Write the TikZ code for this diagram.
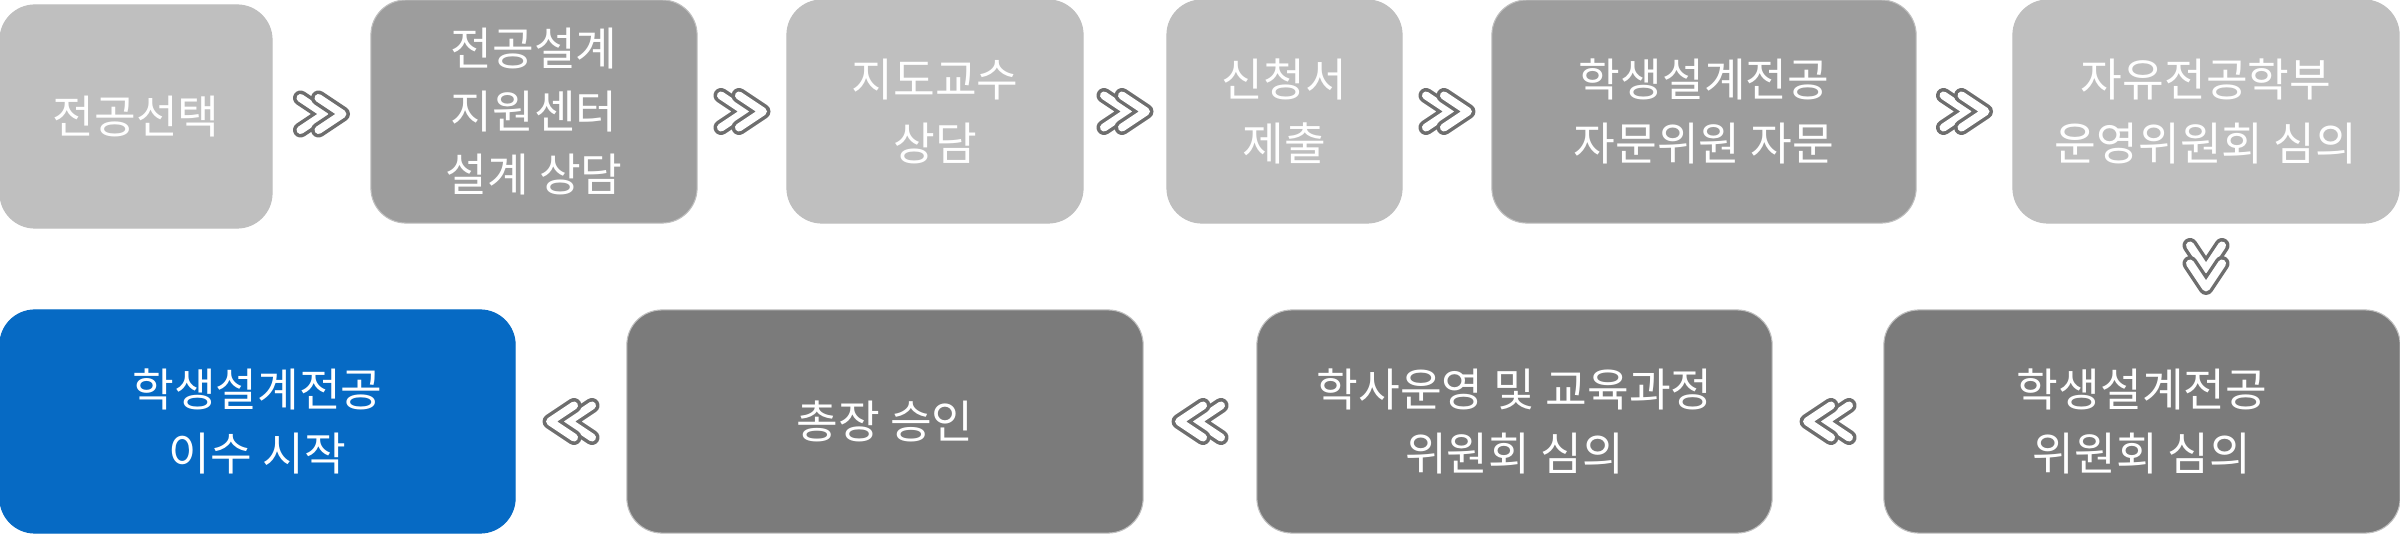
\documentclass[tikz,border=0pt]{standalone}
\usepackage{fontspec}
\newfontfamily\krfont{Noto Sans CJK KR}
\usetikzlibrary{calc}

\definecolor{boxlight}{RGB}{191,191,191}
\definecolor{boxmid}{RGB}{157,157,157}
\definecolor{boxdark}{RGB}{123,123,123}
\definecolor{boxblue}{RGB}{6,106,196}
\definecolor{chevgray}{RGB}{110,110,110}

\tikzset{
  stage/.style={rounded corners=0.35cm, inner sep=0pt, align=center,
    text=white, draw=black!25, line width=0.3pt, minimum height=2.23cm,
    font=\krfont\fontsize{12.9}{18}\selectfont},
  dchev/.pic={
    \foreach \dx in {-9,9}{
      \draw [chevgray, line width=0.15cm, line cap=round, line join=round]
        (\dx-12,16) -- (\dx+12,0) -- (\dx-12,-16);
      \draw [white, line width=0.08cm, line cap=round, line join=round]
        (\dx-12,16) -- (\dx+12,0) -- (\dx-12,-16);
    }
  }
}

\begin{document}
\begin{tikzpicture}[x=0.01cm,y=-0.01cm]

    \useasboundingbox (0,0) rectangle (2400,534);

    \coordinate (stage1) at (136,116.5);
    \coordinate (stage2) at (534,111.5);
    \coordinate (stage3) at (935,111.5);
    \coordinate (stage4) at (1284.5,111.5);
    \coordinate (stage5) at (1704,111.5);
    \coordinate (stage6) at (2206,111.5);
    \coordinate (stage7) at (257.5,421.5);
    \coordinate (stage8) at (885,421.5);
    \coordinate (stage9) at (1514.5,421.5);
    \coordinate (stage10) at (2142,421.5);

    \node [stage, fill=boxlight, minimum width=2.72cm] (s1) at (stage1)
        {전공선택};
    \node [stage, fill=boxmid, minimum width=3.26cm] (s2) at (stage2)
        {전공설계\\지원센터\\설계 상담};
    \node [stage, fill=boxlight, minimum width=2.96cm] (s3) at (stage3)
        {지도교수\\상담};
    \node [stage, fill=boxlight, minimum width=2.35cm] (s4) at (stage4)
        {신청서\\제출};
    \node [stage, fill=boxmid, minimum width=4.24cm] (s5) at (stage5)
        {학생설계전공\\자문위원 자문};
    \node [stage, fill=boxlight, minimum width=3.86cm] (s6) at (stage6)
        {자유전공학부\\운영위원회 심의};

    \node [stage, fill=boxblue, draw=boxblue, minimum width=5.15cm] (s7) at (stage7)
        {학생설계전공\\이수 시작};
    \node [stage, fill=boxdark, minimum width=5.16cm] (s8) at (stage8)
        {총장 승인};
    \node [stage, fill=boxdark, minimum width=5.15cm] (s9) at (stage9)
        {학사운영 및 교육과정\\위원회 심의};
    \node [stage, fill=boxdark, minimum width=5.16cm] (s10) at (stage10)
        {학생설계전공\\위원회 심의};

    \pic at ($(s1.east)!0.5!(s2.west)$) {dchev};
    \pic at ($(s2.east)!0.5!(s3.west)$) {dchev};
    \pic at ($(s3.east)!0.5!(s4.west)$) {dchev};
    \pic at ($(s4.east)!0.5!(s5.west)$) {dchev};
    \pic at ($(s5.east)!0.5!(s6.west)$) {dchev};
    \pic [rotate=-90] at ($(s6.south)!0.5!(s6.south |- s10.north)$) {dchev};
    \pic [rotate=180] at ($(s10.west)!0.5!(s9.east)$) {dchev};
    \pic [rotate=180] at ($(s9.west)!0.5!(s8.east)$) {dchev};
    \pic [rotate=180] at ($(s8.west)!0.5!(s7.east)$) {dchev};
  \end{tikzpicture}
\end{document}
